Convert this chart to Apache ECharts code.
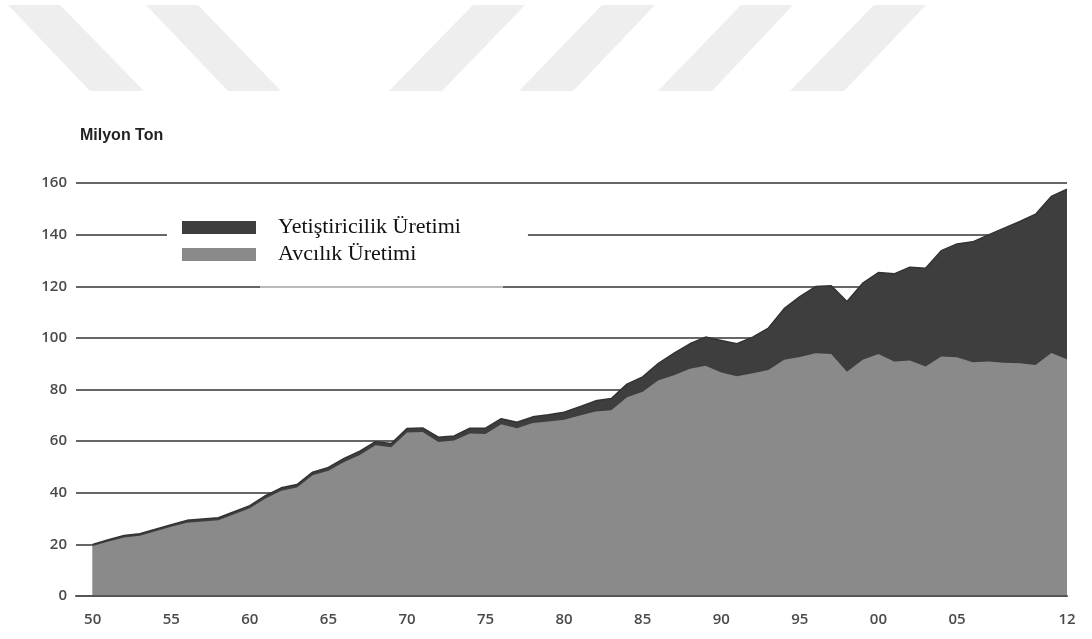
<!DOCTYPE html>
<html>
<head>
<meta charset="utf-8">
<script src="https://cdn.jsdelivr.net/npm/echarts@6/dist/echarts.min.js"></script>
<style>
  html, body { margin: 0; padding: 0; background: #fff; }
  #chart { width: 1092px; height: 639px; }
</style>
</head>
<body>
<div id="chart"></div>
<script>
// World fish production, million tonnes, 1950–2012
const years = [
  1950, 1951, 1952, 1953, 1954, 1955, 1956, 1957, 1958, 1959,
  1960, 1961, 1962, 1963, 1964, 1965, 1966, 1967, 1968, 1969,
  1970, 1971, 1972, 1973, 1974, 1975, 1976, 1977, 1978, 1979,
  1980, 1981, 1982, 1983, 1984, 1985, 1986, 1987, 1988, 1989,
  1990, 1991, 1992, 1993, 1994, 1995, 1996, 1997, 1998, 1999,
  2000, 2001, 2002, 2003, 2004, 2005, 2006, 2007, 2008, 2009,
  2010, 2011, 2012
];

// Capture fisheries (Avcılık Üretimi)
const capture = [
  19.4, 21.1, 22.7, 23.3, 25.1, 26.8, 28.4, 28.9, 29.3, 31.7,
  34.0, 37.8, 40.8, 42.0, 46.8, 48.5, 51.9, 54.6, 58.4, 57.6,
  63.3, 63.5, 59.7, 60.2, 63.0, 62.8, 66.5, 65.0, 67.0, 67.6,
  68.3, 69.9, 71.5, 72.0, 77.0, 79.1, 83.6, 85.5, 88.0, 89.2,
  86.6, 85.1, 86.3, 87.6, 91.5, 92.6, 94.0, 93.8, 86.9, 91.5,
  93.8, 90.8, 91.2, 88.9, 92.8, 92.5, 90.6, 90.8, 90.4, 90.2,
  89.5, 94.1, 91.7
];

// Aquaculture (Yetiştiricilik Üretimi), drawn on top of capture
const aquaculture = [
  0.6, 0.7, 0.7, 0.8, 0.8, 0.8, 0.9, 0.9, 1.0, 1.0,
  1.0, 1.1, 1.1, 1.2, 1.2, 1.3, 1.4, 1.5, 1.4, 1.5,
  1.6, 1.6, 1.8, 1.8, 2.0, 2.2, 2.2, 2.3, 2.4, 2.6,
  2.9, 3.4, 4.1, 4.5, 5.1, 5.8, 6.5, 8.6, 9.7, 11.1,
  12.4, 12.6, 14.0, 16.2, 19.8, 23.4, 25.9, 26.4, 27.2, 29.7,
  31.5, 34.0, 36.2, 38.1, 41.0, 43.9, 46.6, 49.1, 52.1, 54.9,
  58.4, 60.7, 65.9
];

const xTickYears = [1950, 1955, 1960, 1965, 1970, 1975, 1980, 1985, 1990, 1995, 2000, 2005, 2012];
const seriesNames = ['Yetiştiricilik Üretimi', 'Avcılık Üretimi'];
const unitLabel = 'Milyon Ton';

// Aquaculture band sits on top of capture: its upper edge is the total
const totalPairs = years.map((y, i) => [y, +(capture[i] + aquaculture[i]).toFixed(1)]);
const capturePairs = years.map((y, i) => [y, capture[i]]);

// Light grey diagonal stripes across the top of the page
const stripes = [
  [[8, 5], [60, 5], [144, 91], [90, 91]],
  [[146, 5], [198, 5], [281, 91], [228, 91]],
  [[473, 5], [525, 5], [442, 91], [389, 91]],
  [[602, 5], [655, 5], [573, 91], [519, 91]],
  [[741, 5], [793, 5], [712, 91], [658, 91]],
  [[874, 5], [926, 5], [844, 91], [790, 91]]
];

const chart = echarts.init(document.getElementById('chart'), null, { renderer: 'canvas' });

chart.setOption({
  animation: false,
  backgroundColor: '#ffffff',
  title: {
    text: unitLabel,
    left: 75,
    top: 123,
    textStyle: { fontFamily: 'Liberation Sans', fontWeight: 'bold', fontSize: 16, color: '#222' }
  },
  legend: {
    data: seriesNames.map(n => ({ name: n, icon: 'rect' })),
    orient: 'vertical',
    left: 167,
    top: 208,
    padding: [6, 67, 6, 15],
    itemGap: 0,
    itemWidth: 74,
    itemHeight: 13,
    backgroundColor: '#ffffff',
    selectedMode: false,
    textStyle: {
      fontFamily: 'Liberation Serif',
      fontSize: 22,
      lineHeight: 27,
      color: '#111',
      padding: [0, 0, 0, 17]
    }
  },
  grid: { left: 76, right: 25, top: 183, bottom: 43, containLabel: false },
  xAxis: {
    type: 'value',
    min: 1948.94,
    max: 2012,
    z: 3,
    axisLine: { show: true, lineStyle: { color: '#555', width: 2 } },
    axisTick: { show: false },
    splitLine: { show: false },
    axisLabel: {
      customValues: xTickYears,
      formatter: v => String(v).slice(-2),
      margin: 16,
      fontFamily: 'Open Sans',
      fontWeight: 600,
      fontSize: 15,
      color: '#4a4a4a'
    }
  },
  yAxis: {
    type: 'value',
    min: 0,
    max: 160,
    interval: 20,
    axisLine: { show: false },
    axisTick: { show: false },
    splitLine: { show: true, lineStyle: { color: '#666', width: 2 } },
    axisLabel: {
      margin: 9,
      fontFamily: 'Open Sans',
      fontWeight: 600,
      fontSize: 15,
      color: '#4a4a4a'
    }
  },
  series: [
    {
      name: seriesNames[0],
      type: 'line',
      data: totalPairs,
      symbol: 'none',
      color: '#3e3e3e',
      z: 2,
      lineStyle: { width: 1.5, color: '#333' },
      areaStyle: { color: '#3e3e3e', opacity: 1 }
    },
    {
      name: seriesNames[1],
      type: 'line',
      data: capturePairs,
      symbol: 'none',
      color: '#8a8a8a',
      z: 3,
      lineStyle: { width: 0 },
      areaStyle: { color: '#8a8a8a', opacity: 1 }
    }
  ],
  graphic: [
    ...stripes.map(pts => ({
      type: 'polygon',
      z: -10,
      shape: { points: pts },
      style: { fill: '#eeeeee' }
    })),
    {
      type: 'rect',
      z: 100,
      shape: { x: 260, y: 284, width: 243, height: 6 },
      style: { fill: 'rgba(255,255,255,0.55)' }
    }
  ]
});
</script>
</body>
</html>
